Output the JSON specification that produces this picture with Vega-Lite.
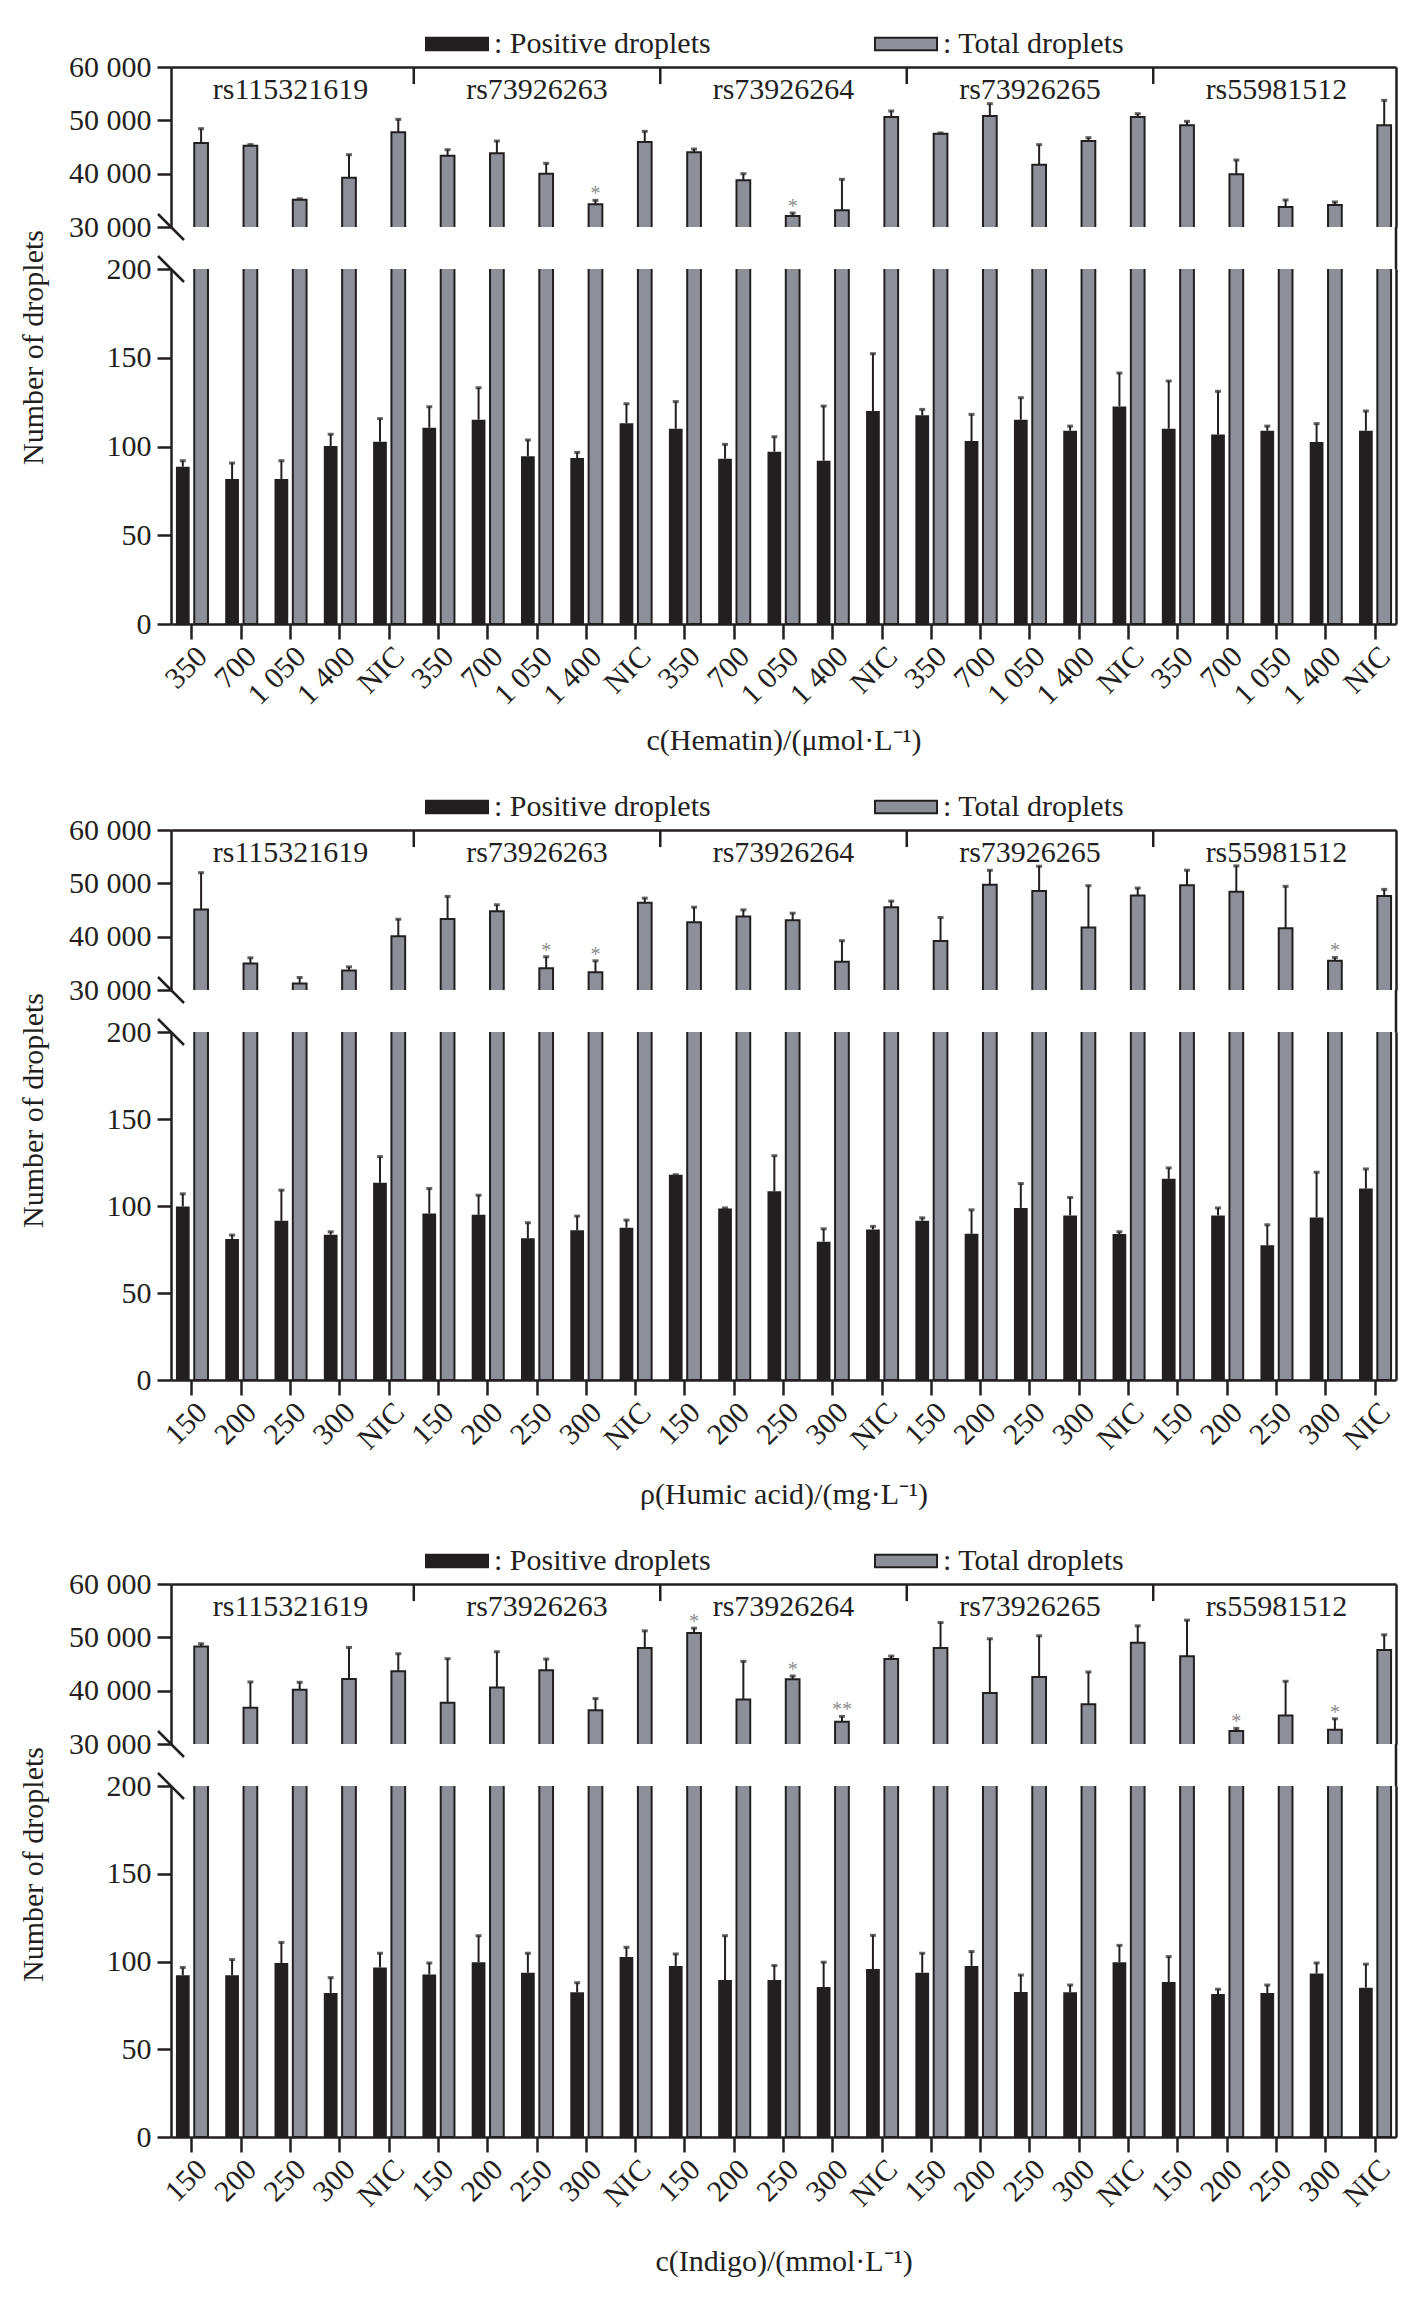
{
"$schema": "https://vega.github.io/schema/vega-lite/v6.json",
"padding": {"left": 17, "top": 12, "right": 10, "bottom": 5},
"background": "white",
"config": {
  "view": {"stroke": null},
  "axis": {"labelFont": "Liberation Serif", "labelFontSize": 30, "labelColor": "#231f20", "titleFont": "Liberation Serif", "titleFontSize": 30, "titleFontWeight": "normal", "titleColor": "#231f20", "domainColor": "#231f20", "domainWidth": 2.5, "tickColor": "#231f20", "tickWidth": 2.5, "grid": false, "labelLimit": 0}
},
"data": {"values": [
{"p":1,"g":"rs115321619","k":"rs115321619|350","t":"Positive droplets","v":88.6,"hi":92},
{"p":1,"g":"rs115321619","k":"rs115321619|350","t":"Total droplets","v":45750,"hi":48440},
{"p":1,"g":"rs115321619","k":"rs115321619|700","t":"Positive droplets","v":81.7,"hi":90.7},
{"p":1,"g":"rs115321619","k":"rs115321619|700","t":"Total droplets","v":45250,"hi":45450},
{"p":1,"g":"rs115321619","k":"rs115321619|1 050","t":"Positive droplets","v":81.7,"hi":92},
{"p":1,"g":"rs115321619","k":"rs115321619|1 050","t":"Total droplets","v":35125,"hi":35300},
{"p":1,"g":"rs115321619","k":"rs115321619|1 400","t":"Positive droplets","v":100.3,"hi":106.9},
{"p":1,"g":"rs115321619","k":"rs115321619|1 400","t":"Total droplets","v":39250,"hi":43560},
{"p":1,"g":"rs115321619","k":"rs115321619|NIC","t":"Positive droplets","v":102.7,"hi":115.7},
{"p":1,"g":"rs115321619","k":"rs115321619|NIC","t":"Total droplets","v":47750,"hi":50190},
{"p":1,"g":"rs73926263","k":"rs73926263|350","t":"Positive droplets","v":110.6,"hi":122.4},
{"p":1,"g":"rs73926263","k":"rs73926263|350","t":"Total droplets","v":43375,"hi":44500},
{"p":1,"g":"rs73926263","k":"rs73926263|700","t":"Positive droplets","v":115.1,"hi":133.1},
{"p":1,"g":"rs73926263","k":"rs73926263|700","t":"Total droplets","v":43810,"hi":46125},
{"p":1,"g":"rs73926263","k":"rs73926263|1 050","t":"Positive droplets","v":94.5,"hi":103.7},
{"p":1,"g":"rs73926263","k":"rs73926263|1 050","t":"Total droplets","v":40000,"hi":41940},
{"p":1,"g":"rs73926263","k":"rs73926263|1 400","t":"Positive droplets","v":93.5,"hi":96.7},
{"p":1,"g":"rs73926263","k":"rs73926263|1 400","t":"Total droplets","v":34250,"hi":35000,"s":"*"},
{"p":1,"g":"rs73926263","k":"rs73926263|NIC","t":"Positive droplets","v":113.1,"hi":124.1},
{"p":1,"g":"rs73926263","k":"rs73926263|NIC","t":"Total droplets","v":45940,"hi":47940},
{"p":1,"g":"rs73926264","k":"rs73926264|350","t":"Positive droplets","v":110,"hi":125.3},
{"p":1,"g":"rs73926264","k":"rs73926264|350","t":"Total droplets","v":44000,"hi":44625},
{"p":1,"g":"rs73926264","k":"rs73926264|700","t":"Positive droplets","v":93.1,"hi":101.2},
{"p":1,"g":"rs73926264","k":"rs73926264|700","t":"Total droplets","v":38750,"hi":40000},
{"p":1,"g":"rs73926264","k":"rs73926264|1 050","t":"Positive droplets","v":97.1,"hi":105.5},
{"p":1,"g":"rs73926264","k":"rs73926264|1 050","t":"Total droplets","v":32060,"hi":32625,"s":"*"},
{"p":1,"g":"rs73926264","k":"rs73926264|1 400","t":"Positive droplets","v":92,"hi":122.8},
{"p":1,"g":"rs73926264","k":"rs73926264|1 400","t":"Total droplets","v":33125,"hi":38940},
{"p":1,"g":"rs73926264","k":"rs73926264|NIC","t":"Positive droplets","v":120,"hi":152.3},
{"p":1,"g":"rs73926264","k":"rs73926264|NIC","t":"Total droplets","v":50625,"hi":51750},
{"p":1,"g":"rs73926265","k":"rs73926265|350","t":"Positive droplets","v":117.6,"hi":120.9},
{"p":1,"g":"rs73926265","k":"rs73926265|350","t":"Total droplets","v":47500,"hi":47625},
{"p":1,"g":"rs73926265","k":"rs73926265|700","t":"Positive droplets","v":103.1,"hi":118.1},
{"p":1,"g":"rs73926265","k":"rs73926265|700","t":"Total droplets","v":50810,"hi":53125},
{"p":1,"g":"rs73926265","k":"rs73926265|1 050","t":"Positive droplets","v":115.1,"hi":127.5},
{"p":1,"g":"rs73926265","k":"rs73926265|1 050","t":"Total droplets","v":41690,"hi":45440},
{"p":1,"g":"rs73926265","k":"rs73926265|1 400","t":"Positive droplets","v":108.9,"hi":111.5},
{"p":1,"g":"rs73926265","k":"rs73926265|1 400","t":"Total droplets","v":46125,"hi":46750},
{"p":1,"g":"rs73926265","k":"rs73926265|NIC","t":"Positive droplets","v":122.6,"hi":141.4},
{"p":1,"g":"rs73926265","k":"rs73926265|NIC","t":"Total droplets","v":50625,"hi":51250},
{"p":1,"g":"rs55981512","k":"rs55981512|350","t":"Positive droplets","v":110,"hi":136.9},
{"p":1,"g":"rs55981512","k":"rs55981512|350","t":"Total droplets","v":49060,"hi":49810},
{"p":1,"g":"rs55981512","k":"rs55981512|700","t":"Positive droplets","v":106.7,"hi":131.1},
{"p":1,"g":"rs55981512","k":"rs55981512|700","t":"Total droplets","v":39875,"hi":42560},
{"p":1,"g":"rs55981512","k":"rs55981512|1 050","t":"Positive droplets","v":108.9,"hi":111.5},
{"p":1,"g":"rs55981512","k":"rs55981512|1 050","t":"Total droplets","v":33750,"hi":35060},
{"p":1,"g":"rs55981512","k":"rs55981512|1 400","t":"Positive droplets","v":102.5,"hi":112.9},
{"p":1,"g":"rs55981512","k":"rs55981512|1 400","t":"Total droplets","v":34125,"hi":34690},
{"p":1,"g":"rs55981512","k":"rs55981512|NIC","t":"Positive droplets","v":108.9,"hi":120},
{"p":1,"g":"rs55981512","k":"rs55981512|NIC","t":"Total droplets","v":49060,"hi":53750},

{"p":2,"g":"rs115321619","k":"rs115321619|150","t":"Positive droplets","v":99.7,"hi":107},
{"p":2,"g":"rs115321619","k":"rs115321619|150","t":"Total droplets","v":45100,"hi":52000},
{"p":2,"g":"rs115321619","k":"rs115321619|200","t":"Positive droplets","v":81,"hi":83.3},
{"p":2,"g":"rs115321619","k":"rs115321619|200","t":"Total droplets","v":34970,"hi":36040},
{"p":2,"g":"rs115321619","k":"rs115321619|250","t":"Positive droplets","v":91.5,"hi":109.1},
{"p":2,"g":"rs115321619","k":"rs115321619|250","t":"Total droplets","v":31200,"hi":32330},
{"p":2,"g":"rs115321619","k":"rs115321619|300","t":"Positive droplets","v":83.5,"hi":85.2},
{"p":2,"g":"rs115321619","k":"rs115321619|300","t":"Total droplets","v":33650,"hi":34340},
{"p":2,"g":"rs115321619","k":"rs115321619|NIC","t":"Positive droplets","v":113.3,"hi":128.4},
{"p":2,"g":"rs115321619","k":"rs115321619|NIC","t":"Total droplets","v":40060,"hi":43270},
{"p":2,"g":"rs73926263","k":"rs73926263|150","t":"Positive droplets","v":95.7,"hi":110},
{"p":2,"g":"rs73926263","k":"rs73926263|150","t":"Total droplets","v":43330,"hi":47550},
{"p":2,"g":"rs73926263","k":"rs73926263|200","t":"Positive droplets","v":94.9,"hi":106.2},
{"p":2,"g":"rs73926263","k":"rs73926263|200","t":"Total droplets","v":44780,"hi":45980},
{"p":2,"g":"rs73926263","k":"rs73926263|250","t":"Positive droplets","v":81.4,"hi":90.4},
{"p":2,"g":"rs73926263","k":"rs73926263|250","t":"Total droplets","v":34090,"hi":36230,"s":"*"},
{"p":2,"g":"rs73926263","k":"rs73926263|300","t":"Positive droplets","v":86,"hi":94.2},
{"p":2,"g":"rs73926263","k":"rs73926263|300","t":"Total droplets","v":33330,"hi":35470,"s":"*"},
{"p":2,"g":"rs73926263","k":"rs73926263|NIC","t":"Positive droplets","v":87.5,"hi":91.9},
{"p":2,"g":"rs73926263","k":"rs73926263|NIC","t":"Total droplets","v":46350,"hi":47230},
{"p":2,"g":"rs73926264","k":"rs73926264|150","t":"Positive droplets","v":118,"hi":118},
{"p":2,"g":"rs73926264","k":"rs73926264|150","t":"Total droplets","v":42700,"hi":45530},
{"p":2,"g":"rs73926264","k":"rs73926264|200","t":"Positive droplets","v":98.6,"hi":98.9},
{"p":2,"g":"rs73926264","k":"rs73926264|200","t":"Total droplets","v":43780,"hi":45030},
{"p":2,"g":"rs73926264","k":"rs73926264|250","t":"Positive droplets","v":108.5,"hi":128.9},
{"p":2,"g":"rs73926264","k":"rs73926264|250","t":"Total droplets","v":43080,"hi":44400},
{"p":2,"g":"rs73926264","k":"rs73926264|300","t":"Positive droplets","v":79.5,"hi":86.9},
{"p":2,"g":"rs73926264","k":"rs73926264|300","t":"Total droplets","v":35280,"hi":39250},
{"p":2,"g":"rs73926264","k":"rs73926264|NIC","t":"Positive droplets","v":86.5,"hi":88.3},
{"p":2,"g":"rs73926264","k":"rs73926264|NIC","t":"Total droplets","v":45530,"hi":46670},
{"p":2,"g":"rs73926265","k":"rs73926265|150","t":"Positive droplets","v":91.5,"hi":93.2},
{"p":2,"g":"rs73926265","k":"rs73926265|150","t":"Total droplets","v":39180,"hi":43590},
{"p":2,"g":"rs73926265","k":"rs73926265|200","t":"Positive droplets","v":84,"hi":97.8},
{"p":2,"g":"rs73926265","k":"rs73926265|200","t":"Total droplets","v":49750,"hi":52450},
{"p":2,"g":"rs73926265","k":"rs73926265|250","t":"Positive droplets","v":98.9,"hi":112.9},
{"p":2,"g":"rs73926265","k":"rs73926265|250","t":"Total droplets","v":48550,"hi":53210},
{"p":2,"g":"rs73926265","k":"rs73926265|300","t":"Positive droplets","v":94.6,"hi":104.9},
{"p":2,"g":"rs73926265","k":"rs73926265|300","t":"Total droplets","v":41700,"hi":49560},
{"p":2,"g":"rs73926265","k":"rs73926265|NIC","t":"Positive droplets","v":83.9,"hi":85.2},
{"p":2,"g":"rs73926265","k":"rs73926265|NIC","t":"Total droplets","v":47740,"hi":49120},
{"p":2,"g":"rs55981512","k":"rs55981512|150","t":"Positive droplets","v":115.6,"hi":121.9},
{"p":2,"g":"rs55981512","k":"rs55981512|150","t":"Total droplets","v":49630,"hi":52460},
{"p":2,"g":"rs55981512","k":"rs55981512|200","t":"Positive droplets","v":94.6,"hi":98.9},
{"p":2,"g":"rs55981512","k":"rs55981512|200","t":"Total droplets","v":48430,"hi":53270},
{"p":2,"g":"rs55981512","k":"rs55981512|250","t":"Positive droplets","v":77.4,"hi":89.2},
{"p":2,"g":"rs55981512","k":"rs55981512|250","t":"Total droplets","v":41570,"hi":49440},
{"p":2,"g":"rs55981512","k":"rs55981512|300","t":"Positive droplets","v":93.4,"hi":119.4},
{"p":2,"g":"rs55981512","k":"rs55981512|300","t":"Total droplets","v":35470,"hi":36100,"s":"*"},
{"p":2,"g":"rs55981512","k":"rs55981512|NIC","t":"Positive droplets","v":110,"hi":121.3},
{"p":2,"g":"rs55981512","k":"rs55981512|NIC","t":"Total droplets","v":47610,"hi":48870},

{"p":3,"g":"rs115321619","k":"rs115321619|150","t":"Positive droplets","v":92.1,"hi":96.6},
{"p":3,"g":"rs115321619","k":"rs115321619|150","t":"Total droplets","v":48300,"hi":48800},
{"p":3,"g":"rs115321619","k":"rs115321619|200","t":"Positive droplets","v":92.1,"hi":101.1},
{"p":3,"g":"rs115321619","k":"rs115321619|200","t":"Total droplets","v":36780,"hi":41640},
{"p":3,"g":"rs115321619","k":"rs115321619|250","t":"Positive droplets","v":99.1,"hi":110.9},
{"p":3,"g":"rs115321619","k":"rs115321619|250","t":"Total droplets","v":40150,"hi":41580},
{"p":3,"g":"rs115321619","k":"rs115321619|300","t":"Positive droplets","v":82.1,"hi":90.8},
{"p":3,"g":"rs115321619","k":"rs115321619|300","t":"Total droplets","v":42200,"hi":48110},
{"p":3,"g":"rs115321619","k":"rs115321619|NIC","t":"Positive droplets","v":96.6,"hi":104.7},
{"p":3,"g":"rs115321619","k":"rs115321619|NIC","t":"Total droplets","v":43630,"hi":46930},
{"p":3,"g":"rs73926263","k":"rs73926263|150","t":"Positive droplets","v":92.6,"hi":99.2},
{"p":3,"g":"rs73926263","k":"rs73926263|150","t":"Total droplets","v":37720,"hi":46000},
{"p":3,"g":"rs73926263","k":"rs73926263|200","t":"Positive droplets","v":99.6,"hi":114.7},
{"p":3,"g":"rs73926263","k":"rs73926263|200","t":"Total droplets","v":40580,"hi":47300},
{"p":3,"g":"rs73926263","k":"rs73926263|250","t":"Positive droplets","v":93.6,"hi":104.7},
{"p":3,"g":"rs73926263","k":"rs73926263|250","t":"Total droplets","v":43820,"hi":45930},
{"p":3,"g":"rs73926263","k":"rs73926263|300","t":"Positive droplets","v":82.5,"hi":87.9},
{"p":3,"g":"rs73926263","k":"rs73926263|300","t":"Total droplets","v":36350,"hi":38530},
{"p":3,"g":"rs73926263","k":"rs73926263|NIC","t":"Positive droplets","v":102.6,"hi":108.1},
{"p":3,"g":"rs73926263","k":"rs73926263|NIC","t":"Total droplets","v":47990,"hi":51220},
{"p":3,"g":"rs73926264","k":"rs73926264|150","t":"Positive droplets","v":97.5,"hi":104.3},
{"p":3,"g":"rs73926264","k":"rs73926264|150","t":"Total droplets","v":50790,"hi":51720,"s":"*"},
{"p":3,"g":"rs73926264","k":"rs73926264|200","t":"Positive droplets","v":89.4,"hi":114.7},
{"p":3,"g":"rs73926264","k":"rs73926264|200","t":"Total droplets","v":38340,"hi":45500},
{"p":3,"g":"rs73926264","k":"rs73926264|250","t":"Positive droplets","v":89.4,"hi":97.7},
{"p":3,"g":"rs73926264","k":"rs73926264|250","t":"Total droplets","v":42140,"hi":42760,"s":"*"},
{"p":3,"g":"rs73926264","k":"rs73926264|300","t":"Positive droplets","v":85.5,"hi":99.6},
{"p":3,"g":"rs73926264","k":"rs73926264|300","t":"Total droplets","v":34170,"hi":35170,"s":"**"},
{"p":3,"g":"rs73926264","k":"rs73926264|NIC","t":"Positive droplets","v":95.7,"hi":114.9},
{"p":3,"g":"rs73926264","k":"rs73926264|NIC","t":"Total droplets","v":45930,"hi":46490},
{"p":3,"g":"rs73926265","k":"rs73926265|150","t":"Positive droplets","v":93.6,"hi":104.7},
{"p":3,"g":"rs73926265","k":"rs73926265|150","t":"Total droplets","v":47990,"hi":52780},
{"p":3,"g":"rs73926265","k":"rs73926265|200","t":"Positive droplets","v":97.5,"hi":105.7},
{"p":3,"g":"rs73926265","k":"rs73926265|200","t":"Total droplets","v":39580,"hi":49730},
{"p":3,"g":"rs73926265","k":"rs73926265|250","t":"Positive droplets","v":82.6,"hi":92.3},
{"p":3,"g":"rs73926265","k":"rs73926265|250","t":"Total droplets","v":42570,"hi":50290},
{"p":3,"g":"rs73926265","k":"rs73926265|300","t":"Positive droplets","v":82.5,"hi":86.6},
{"p":3,"g":"rs73926265","k":"rs73926265|300","t":"Total droplets","v":37470,"hi":43510},
{"p":3,"g":"rs73926265","k":"rs73926265|NIC","t":"Positive droplets","v":99.6,"hi":109.2},
{"p":3,"g":"rs73926265","k":"rs73926265|NIC","t":"Total droplets","v":48980,"hi":52160},
{"p":3,"g":"rs55981512","k":"rs55981512|150","t":"Positive droplets","v":88.3,"hi":102.8},
{"p":3,"g":"rs55981512","k":"rs55981512|150","t":"Total droplets","v":46430,"hi":53220},
{"p":3,"g":"rs55981512","k":"rs55981512|200","t":"Positive droplets","v":81.5,"hi":84.2},
{"p":3,"g":"rs55981512","k":"rs55981512|200","t":"Total droplets","v":32430,"hi":32930,"s":"*"},
{"p":3,"g":"rs55981512","k":"rs55981512|250","t":"Positive droplets","v":82.1,"hi":86.6},
{"p":3,"g":"rs55981512","k":"rs55981512|250","t":"Total droplets","v":35350,"hi":41760},
{"p":3,"g":"rs55981512","k":"rs55981512|300","t":"Positive droplets","v":93.2,"hi":99.2},
{"p":3,"g":"rs55981512","k":"rs55981512|300","t":"Total droplets","v":32680,"hi":34730,"s":"*"},
{"p":3,"g":"rs55981512","k":"rs55981512|NIC","t":"Positive droplets","v":85.1,"hi":98.5},
{"p":3,"g":"rs55981512","k":"rs55981512|NIC","t":"Total droplets","v":47610,"hi":50480}
]},
"spacing": 20,
"resolve": {"scale": {"color": "independent"}, "legend": {"color": "independent"}},
"vconcat": [
 {"spacing": 42, "bounds": "flush",
  "resolve": {"scale": {"color": "independent"}, "legend": {"color": "independent"}},
  "vconcat": [
  {"width": 1225, "height": 160,
   "transform": [{"filter": "datum.p == 1 && datum.t == 'Total droplets'"}],
   "encoding": {"x": {"field": "k", "type": "nominal", "sort": null, "scale": {"paddingInner": 0.35, "paddingOuter": 0.1}, "axis": null}},
   "layer": [
    {"mark": {"type": "bar", "clip": true, "stroke": "#231f20", "strokeWidth": 2},
     "encoding": {
      "xOffset": {"field": "t", "type": "nominal", "scale": {"domain": ["Positive droplets", "Total droplets"], "paddingInner": 0.25, "paddingOuter": 0}},
      "y": {"field": "v", "type": "quantitative", "scale": {"domain": [30000, 60000], "nice": false, "zero": false}, "axis": {"orient": "left", "values": [30000, 40000, 50000, 60000], "labelExpr": "replace(format(datum.value, ','), ',', ' ')", "tickSize": 14, "labelPadding": 6, "title": null}},
      "y2": {"datum": 29000},
      "color": {"field": "t", "type": "nominal", "scale": {"domain": ["Positive droplets", "Total droplets"], "range": ["#231f20", "#8e9099"]},
        "legend": {"orient": "none", "legendX": 254, "legendY": -55, "direction": "horizontal", "title": null, "symbolType": "M-1,-0.2H1V0.2H-1Z", "symbolSize": 3844, "symbolStrokeColor": "#231f20", "symbolStrokeWidth": 2, "labelFont": "Liberation Serif", "labelFontSize": 30, "labelColor": "#231f20", "labelOffset": 5, "columnPadding": 160, "labelExpr": "': ' + datum.label", "padding": 0, "labelLimit": 0}}
     }},
    {"mark": {"type": "rule", "color": "#231f20", "strokeWidth": 2},
     "encoding": {
      "xOffset": {"field": "t", "type": "nominal", "scale": {"domain": ["Positive droplets", "Total droplets"], "paddingInner": 0.25, "paddingOuter": 0}},
      "y": {"field": "v", "type": "quantitative", "scale": {"domain": [30000, 60000], "nice": false, "zero": false}, "axis": null},
      "y2": {"field": "hi"}}},
    {"mark": {"type": "tick", "orient": "horizontal", "color": "#231f20", "size": 6, "thickness": 3},
     "encoding": {
      "xOffset": {"field": "t", "type": "nominal", "scale": {"domain": ["Positive droplets", "Total droplets"], "paddingInner": 0.25, "paddingOuter": 0}},
      "y": {"field": "hi", "type": "quantitative", "scale": {"domain": [30000, 60000], "nice": false, "zero": false}, "axis": null}}},
    {"transform": [{"filter": "isValid(datum.s)"}],
     "mark": {"type": "text", "font": "Liberation Serif", "fontSize": 20, "color": "#8c8c8c", "baseline": "alphabetic"},
     "encoding": {
      "xOffset": {"field": "t", "type": "nominal", "scale": {"domain": ["Positive droplets", "Total droplets"], "paddingInner": 0.25, "paddingOuter": 0}},
      "y": {"field": "hi", "type": "quantitative", "scale": {"domain": [30000, 60000], "nice": false, "zero": false}, "axis": null},
      "text": {"field": "s"}}},
    {"transform": [{"filter": "indexof(datum.k, '|1 050') > 0 || indexof(datum.k, '|250') > 0"}],
     "mark": {"type": "text", "font": "Liberation Serif", "fontSize": 30, "color": "#231f20", "baseline": "middle"},
     "encoding": {
      "x": {"field": "k", "type": "nominal", "sort": null, "scale": {"paddingInner": 0.35, "paddingOuter": 0.1}, "axis": {"orient": "top", "labels": false, "ticks": false, "title": null}},
      "y": {"datum": 55700, "type": "quantitative", "scale": {"domain": [30000, 60000], "nice": false, "zero": false}, "axis": {"orient": "right", "labels": false, "ticks": false, "title": null}},
      "text": {"field": "g"}}},
    {"transform": [{"filter": "(indexof(datum.k, '|350') > 0 || indexof(datum.k, '|150') > 0) && datum.g != 'rs115321619'"}],
     "mark": {"type": "rule", "color": "#231f20", "strokeWidth": 2.5},
     "encoding": {
      "x": {"field": "k", "type": "nominal", "sort": null, "bandPosition": -0.269, "scale": {"paddingInner": 0.35, "paddingOuter": 0.1}, "axis": null},
      "y": {"datum": 60000, "type": "quantitative", "scale": {"domain": [30000, 60000], "nice": false, "zero": false}, "axis": null},
      "y2": {"datum": 56800}}},
    {"data": {"values": [{}]},
     "mark": {"type": "rule", "color": "#231f20", "strokeWidth": 2.5, "clip": false},
     "encoding": {"x": {"value": "width"}, "y": {"datum": 30000, "type": "quantitative", "scale": {"domain": [30000, 60000], "nice": false, "zero": false}, "axis": null}, "y2": {"datum": 22000}}},
    {"data": {"values": [{}]},
     "mark": {"type": "point", "shape": "M-1,-1L1,1", "size": 676, "filled": false, "strokeWidth": 2.5, "color": "#231f20", "opacity": 1},
     "encoding": {"x": {"value": 0}, "y": {"datum": 30000, "type": "quantitative", "scale": {"domain": [30000, 60000], "nice": false, "zero": false}, "axis": null}}}
   ],
   "resolve": {"axis": {"x": "independent", "y": "independent"}}
  },
  {"width": 1225, "height": 355,
   "transform": [{"filter": "datum.p == 1"}],
   "encoding": {"x": {"field": "k", "type": "nominal", "sort": null, "scale": {"paddingInner": 0.35, "paddingOuter": 0.1},
      "axis": {"orient": "bottom", "title": "c(Hematin)/(μmol·L⁻¹)", "labelExpr": "split(datum.value, '|')[1]", "labelAngle": -45, "labelAlign": "right", "labelBaseline": "top", "tickSize": 15, "labelPadding": 2, "titleY": 116, "titleBaseline": "middle"}}},
   "layer": [
    {"transform": [{"filter": "datum.t == 'Positive droplets'"}],
     "mark": {"type": "bar", "color": "#231f20"},
     "encoding": {
      "xOffset": {"field": "t", "type": "nominal", "scale": {"domain": ["Positive droplets", "Total droplets"], "paddingInner": 0.25, "paddingOuter": 0}},
      "y": {"field": "v", "type": "quantitative", "scale": {"domain": [0, 200], "nice": false}, "axis": {"orient": "left", "values": [0, 50, 100, 150, 200], "tickSize": 14, "labelPadding": 6, "title": "Number of droplets", "titleX": -138, "titleY": 78, "titleAngle": 270, "titleAlign": "center", "titleBaseline": "middle"}}}},
    {"transform": [{"filter": "datum.t == 'Total droplets'"}],
     "mark": {"type": "bar", "clip": true, "fill": "#8e9099", "stroke": "#231f20", "strokeWidth": 2},
     "encoding": {
      "xOffset": {"field": "t", "type": "nominal", "scale": {"domain": ["Positive droplets", "Total droplets"], "paddingInner": 0.25, "paddingOuter": 0}},
      "y": {"field": "v", "type": "quantitative", "scale": {"domain": [0, 200], "nice": false}, "axis": {"orient": "right", "labels": false, "ticks": false, "title": null}}}},
    {"transform": [{"filter": "datum.t == 'Positive droplets'"}],
     "mark": {"type": "rule", "color": "#231f20", "strokeWidth": 2},
     "encoding": {
      "xOffset": {"field": "t", "type": "nominal", "scale": {"domain": ["Positive droplets", "Total droplets"], "paddingInner": 0.25, "paddingOuter": 0}},
      "y": {"field": "v", "type": "quantitative", "scale": {"domain": [0, 200], "nice": false}, "axis": null},
      "y2": {"field": "hi"}}},
    {"transform": [{"filter": "datum.t == 'Positive droplets'"}],
     "mark": {"type": "tick", "orient": "horizontal", "color": "#231f20", "size": 6, "thickness": 3},
     "encoding": {
      "xOffset": {"field": "t", "type": "nominal", "scale": {"domain": ["Positive droplets", "Total droplets"], "paddingInner": 0.25, "paddingOuter": 0}},
      "y": {"field": "hi", "type": "quantitative", "scale": {"domain": [0, 200], "nice": false}, "axis": null}}},
    {"data": {"values": [{}]},
     "mark": {"type": "point", "shape": "M-1,-1L1,1", "size": 676, "filled": false, "strokeWidth": 2.5, "color": "#231f20", "opacity": 1},
     "encoding": {"x": {"value": 0}, "y": {"datum": 200, "type": "quantitative", "scale": {"domain": [0, 200], "nice": false}, "axis": null}}}
   ],
   "resolve": {"axis": {"y": "independent"}}
  }
 ]},
 {"spacing": 42, "bounds": "flush",
  "resolve": {"scale": {"color": "independent"}, "legend": {"color": "independent"}},
  "vconcat": [
  {"width": 1225, "height": 160,
   "transform": [{"filter": "datum.p == 2 && datum.t == 'Total droplets'"}],
   "encoding": {"x": {"field": "k", "type": "nominal", "sort": null, "scale": {"paddingInner": 0.35, "paddingOuter": 0.1}, "axis": null}},
   "layer": [
    {"mark": {"type": "bar", "clip": true, "stroke": "#231f20", "strokeWidth": 2},
     "encoding": {
      "xOffset": {"field": "t", "type": "nominal", "scale": {"domain": ["Positive droplets", "Total droplets"], "paddingInner": 0.25, "paddingOuter": 0}},
      "y": {"field": "v", "type": "quantitative", "scale": {"domain": [30000, 60000], "nice": false, "zero": false}, "axis": {"orient": "left", "values": [30000, 40000, 50000, 60000], "labelExpr": "replace(format(datum.value, ','), ',', ' ')", "tickSize": 14, "labelPadding": 6, "title": null}},
      "y2": {"datum": 29000},
      "color": {"field": "t", "type": "nominal", "scale": {"domain": ["Positive droplets", "Total droplets"], "range": ["#231f20", "#8e9099"]},
        "legend": {"orient": "none", "legendX": 254, "legendY": -55, "direction": "horizontal", "title": null, "symbolType": "M-1,-0.2H1V0.2H-1Z", "symbolSize": 3844, "symbolStrokeColor": "#231f20", "symbolStrokeWidth": 2, "labelFont": "Liberation Serif", "labelFontSize": 30, "labelColor": "#231f20", "labelOffset": 5, "columnPadding": 160, "labelExpr": "': ' + datum.label", "padding": 0, "labelLimit": 0}}
     }},
    {"mark": {"type": "rule", "color": "#231f20", "strokeWidth": 2},
     "encoding": {
      "xOffset": {"field": "t", "type": "nominal", "scale": {"domain": ["Positive droplets", "Total droplets"], "paddingInner": 0.25, "paddingOuter": 0}},
      "y": {"field": "v", "type": "quantitative", "scale": {"domain": [30000, 60000], "nice": false, "zero": false}, "axis": null},
      "y2": {"field": "hi"}}},
    {"mark": {"type": "tick", "orient": "horizontal", "color": "#231f20", "size": 6, "thickness": 3},
     "encoding": {
      "xOffset": {"field": "t", "type": "nominal", "scale": {"domain": ["Positive droplets", "Total droplets"], "paddingInner": 0.25, "paddingOuter": 0}},
      "y": {"field": "hi", "type": "quantitative", "scale": {"domain": [30000, 60000], "nice": false, "zero": false}, "axis": null}}},
    {"transform": [{"filter": "isValid(datum.s)"}],
     "mark": {"type": "text", "font": "Liberation Serif", "fontSize": 20, "color": "#8c8c8c", "baseline": "alphabetic"},
     "encoding": {
      "xOffset": {"field": "t", "type": "nominal", "scale": {"domain": ["Positive droplets", "Total droplets"], "paddingInner": 0.25, "paddingOuter": 0}},
      "y": {"field": "hi", "type": "quantitative", "scale": {"domain": [30000, 60000], "nice": false, "zero": false}, "axis": null},
      "text": {"field": "s"}}},
    {"transform": [{"filter": "indexof(datum.k, '|1 050') > 0 || indexof(datum.k, '|250') > 0"}],
     "mark": {"type": "text", "font": "Liberation Serif", "fontSize": 30, "color": "#231f20", "baseline": "middle"},
     "encoding": {
      "x": {"field": "k", "type": "nominal", "sort": null, "scale": {"paddingInner": 0.35, "paddingOuter": 0.1}, "axis": {"orient": "top", "labels": false, "ticks": false, "title": null}},
      "y": {"datum": 55700, "type": "quantitative", "scale": {"domain": [30000, 60000], "nice": false, "zero": false}, "axis": {"orient": "right", "labels": false, "ticks": false, "title": null}},
      "text": {"field": "g"}}},
    {"transform": [{"filter": "(indexof(datum.k, '|350') > 0 || indexof(datum.k, '|150') > 0) && datum.g != 'rs115321619'"}],
     "mark": {"type": "rule", "color": "#231f20", "strokeWidth": 2.5},
     "encoding": {
      "x": {"field": "k", "type": "nominal", "sort": null, "bandPosition": -0.269, "scale": {"paddingInner": 0.35, "paddingOuter": 0.1}, "axis": null},
      "y": {"datum": 60000, "type": "quantitative", "scale": {"domain": [30000, 60000], "nice": false, "zero": false}, "axis": null},
      "y2": {"datum": 56800}}},
    {"data": {"values": [{}]},
     "mark": {"type": "rule", "color": "#231f20", "strokeWidth": 2.5, "clip": false},
     "encoding": {"x": {"value": "width"}, "y": {"datum": 30000, "type": "quantitative", "scale": {"domain": [30000, 60000], "nice": false, "zero": false}, "axis": null}, "y2": {"datum": 22000}}},
    {"data": {"values": [{}]},
     "mark": {"type": "point", "shape": "M-1,-1L1,1", "size": 676, "filled": false, "strokeWidth": 2.5, "color": "#231f20", "opacity": 1},
     "encoding": {"x": {"value": 0}, "y": {"datum": 30000, "type": "quantitative", "scale": {"domain": [30000, 60000], "nice": false, "zero": false}, "axis": null}}}
   ],
   "resolve": {"axis": {"x": "independent", "y": "independent"}}
  },
  {"width": 1225, "height": 348,
   "transform": [{"filter": "datum.p == 2"}],
   "encoding": {"x": {"field": "k", "type": "nominal", "sort": null, "scale": {"paddingInner": 0.35, "paddingOuter": 0.1},
      "axis": {"orient": "bottom", "title": "ρ(Humic acid)/(mg·L⁻¹)", "labelExpr": "split(datum.value, '|')[1]", "labelAngle": -45, "labelAlign": "right", "labelBaseline": "top", "tickSize": 15, "labelPadding": 2, "titleY": 114, "titleBaseline": "middle"}}},
   "layer": [
    {"transform": [{"filter": "datum.t == 'Positive droplets'"}],
     "mark": {"type": "bar", "color": "#231f20"},
     "encoding": {
      "xOffset": {"field": "t", "type": "nominal", "scale": {"domain": ["Positive droplets", "Total droplets"], "paddingInner": 0.25, "paddingOuter": 0}},
      "y": {"field": "v", "type": "quantitative", "scale": {"domain": [0, 200], "nice": false}, "axis": {"orient": "left", "values": [0, 50, 100, 150, 200], "tickSize": 14, "labelPadding": 6, "title": "Number of droplets", "titleX": -138, "titleY": 78, "titleAngle": 270, "titleAlign": "center", "titleBaseline": "middle"}}}},
    {"transform": [{"filter": "datum.t == 'Total droplets'"}],
     "mark": {"type": "bar", "clip": true, "fill": "#8e9099", "stroke": "#231f20", "strokeWidth": 2},
     "encoding": {
      "xOffset": {"field": "t", "type": "nominal", "scale": {"domain": ["Positive droplets", "Total droplets"], "paddingInner": 0.25, "paddingOuter": 0}},
      "y": {"field": "v", "type": "quantitative", "scale": {"domain": [0, 200], "nice": false}, "axis": {"orient": "right", "labels": false, "ticks": false, "title": null}}}},
    {"transform": [{"filter": "datum.t == 'Positive droplets'"}],
     "mark": {"type": "rule", "color": "#231f20", "strokeWidth": 2},
     "encoding": {
      "xOffset": {"field": "t", "type": "nominal", "scale": {"domain": ["Positive droplets", "Total droplets"], "paddingInner": 0.25, "paddingOuter": 0}},
      "y": {"field": "v", "type": "quantitative", "scale": {"domain": [0, 200], "nice": false}, "axis": null},
      "y2": {"field": "hi"}}},
    {"transform": [{"filter": "datum.t == 'Positive droplets'"}],
     "mark": {"type": "tick", "orient": "horizontal", "color": "#231f20", "size": 6, "thickness": 3},
     "encoding": {
      "xOffset": {"field": "t", "type": "nominal", "scale": {"domain": ["Positive droplets", "Total droplets"], "paddingInner": 0.25, "paddingOuter": 0}},
      "y": {"field": "hi", "type": "quantitative", "scale": {"domain": [0, 200], "nice": false}, "axis": null}}},
    {"data": {"values": [{}]},
     "mark": {"type": "point", "shape": "M-1,-1L1,1", "size": 676, "filled": false, "strokeWidth": 2.5, "color": "#231f20", "opacity": 1},
     "encoding": {"x": {"value": 0}, "y": {"datum": 200, "type": "quantitative", "scale": {"domain": [0, 200], "nice": false}, "axis": null}}}
   ],
   "resolve": {"axis": {"y": "independent"}}
  }
 ]},
 {"spacing": 42, "bounds": "flush",
  "resolve": {"scale": {"color": "independent"}, "legend": {"color": "independent"}},
  "vconcat": [
  {"width": 1225, "height": 160,
   "transform": [{"filter": "datum.p == 3 && datum.t == 'Total droplets'"}],
   "encoding": {"x": {"field": "k", "type": "nominal", "sort": null, "scale": {"paddingInner": 0.35, "paddingOuter": 0.1}, "axis": null}},
   "layer": [
    {"mark": {"type": "bar", "clip": true, "stroke": "#231f20", "strokeWidth": 2},
     "encoding": {
      "xOffset": {"field": "t", "type": "nominal", "scale": {"domain": ["Positive droplets", "Total droplets"], "paddingInner": 0.25, "paddingOuter": 0}},
      "y": {"field": "v", "type": "quantitative", "scale": {"domain": [30000, 60000], "nice": false, "zero": false}, "axis": {"orient": "left", "values": [30000, 40000, 50000, 60000], "labelExpr": "replace(format(datum.value, ','), ',', ' ')", "tickSize": 14, "labelPadding": 6, "title": null}},
      "y2": {"datum": 29000},
      "color": {"field": "t", "type": "nominal", "scale": {"domain": ["Positive droplets", "Total droplets"], "range": ["#231f20", "#8e9099"]},
        "legend": {"orient": "none", "legendX": 254, "legendY": -55, "direction": "horizontal", "title": null, "symbolType": "M-1,-0.2H1V0.2H-1Z", "symbolSize": 3844, "symbolStrokeColor": "#231f20", "symbolStrokeWidth": 2, "labelFont": "Liberation Serif", "labelFontSize": 30, "labelColor": "#231f20", "labelOffset": 5, "columnPadding": 160, "labelExpr": "': ' + datum.label", "padding": 0, "labelLimit": 0}}
     }},
    {"mark": {"type": "rule", "color": "#231f20", "strokeWidth": 2},
     "encoding": {
      "xOffset": {"field": "t", "type": "nominal", "scale": {"domain": ["Positive droplets", "Total droplets"], "paddingInner": 0.25, "paddingOuter": 0}},
      "y": {"field": "v", "type": "quantitative", "scale": {"domain": [30000, 60000], "nice": false, "zero": false}, "axis": null},
      "y2": {"field": "hi"}}},
    {"mark": {"type": "tick", "orient": "horizontal", "color": "#231f20", "size": 6, "thickness": 3},
     "encoding": {
      "xOffset": {"field": "t", "type": "nominal", "scale": {"domain": ["Positive droplets", "Total droplets"], "paddingInner": 0.25, "paddingOuter": 0}},
      "y": {"field": "hi", "type": "quantitative", "scale": {"domain": [30000, 60000], "nice": false, "zero": false}, "axis": null}}},
    {"transform": [{"filter": "isValid(datum.s)"}],
     "mark": {"type": "text", "font": "Liberation Serif", "fontSize": 20, "color": "#8c8c8c", "baseline": "alphabetic"},
     "encoding": {
      "xOffset": {"field": "t", "type": "nominal", "scale": {"domain": ["Positive droplets", "Total droplets"], "paddingInner": 0.25, "paddingOuter": 0}},
      "y": {"field": "hi", "type": "quantitative", "scale": {"domain": [30000, 60000], "nice": false, "zero": false}, "axis": null},
      "text": {"field": "s"}}},
    {"transform": [{"filter": "indexof(datum.k, '|1 050') > 0 || indexof(datum.k, '|250') > 0"}],
     "mark": {"type": "text", "font": "Liberation Serif", "fontSize": 30, "color": "#231f20", "baseline": "middle"},
     "encoding": {
      "x": {"field": "k", "type": "nominal", "sort": null, "scale": {"paddingInner": 0.35, "paddingOuter": 0.1}, "axis": {"orient": "top", "labels": false, "ticks": false, "title": null}},
      "y": {"datum": 55700, "type": "quantitative", "scale": {"domain": [30000, 60000], "nice": false, "zero": false}, "axis": {"orient": "right", "labels": false, "ticks": false, "title": null}},
      "text": {"field": "g"}}},
    {"transform": [{"filter": "(indexof(datum.k, '|350') > 0 || indexof(datum.k, '|150') > 0) && datum.g != 'rs115321619'"}],
     "mark": {"type": "rule", "color": "#231f20", "strokeWidth": 2.5},
     "encoding": {
      "x": {"field": "k", "type": "nominal", "sort": null, "bandPosition": -0.269, "scale": {"paddingInner": 0.35, "paddingOuter": 0.1}, "axis": null},
      "y": {"datum": 60000, "type": "quantitative", "scale": {"domain": [30000, 60000], "nice": false, "zero": false}, "axis": null},
      "y2": {"datum": 56800}}},
    {"data": {"values": [{}]},
     "mark": {"type": "rule", "color": "#231f20", "strokeWidth": 2.5, "clip": false},
     "encoding": {"x": {"value": "width"}, "y": {"datum": 30000, "type": "quantitative", "scale": {"domain": [30000, 60000], "nice": false, "zero": false}, "axis": null}, "y2": {"datum": 22000}}},
    {"data": {"values": [{}]},
     "mark": {"type": "point", "shape": "M-1,-1L1,1", "size": 676, "filled": false, "strokeWidth": 2.5, "color": "#231f20", "opacity": 1},
     "encoding": {"x": {"value": 0}, "y": {"datum": 30000, "type": "quantitative", "scale": {"domain": [30000, 60000], "nice": false, "zero": false}, "axis": null}}}
   ],
   "resolve": {"axis": {"x": "independent", "y": "independent"}}
  },
  {"width": 1225, "height": 351,
   "transform": [{"filter": "datum.p == 3"}],
   "encoding": {"x": {"field": "k", "type": "nominal", "sort": null, "scale": {"paddingInner": 0.35, "paddingOuter": 0.1},
      "axis": {"orient": "bottom", "title": "c(Indigo)/(mmol·L⁻¹)", "labelExpr": "split(datum.value, '|')[1]", "labelAngle": -45, "labelAlign": "right", "labelBaseline": "top", "tickSize": 15, "labelPadding": 2, "titleY": 124, "titleBaseline": "middle"}}},
   "layer": [
    {"transform": [{"filter": "datum.t == 'Positive droplets'"}],
     "mark": {"type": "bar", "color": "#231f20"},
     "encoding": {
      "xOffset": {"field": "t", "type": "nominal", "scale": {"domain": ["Positive droplets", "Total droplets"], "paddingInner": 0.25, "paddingOuter": 0}},
      "y": {"field": "v", "type": "quantitative", "scale": {"domain": [0, 200], "nice": false}, "axis": {"orient": "left", "values": [0, 50, 100, 150, 200], "tickSize": 14, "labelPadding": 6, "title": "Number of droplets", "titleX": -138, "titleY": 78, "titleAngle": 270, "titleAlign": "center", "titleBaseline": "middle"}}}},
    {"transform": [{"filter": "datum.t == 'Total droplets'"}],
     "mark": {"type": "bar", "clip": true, "fill": "#8e9099", "stroke": "#231f20", "strokeWidth": 2},
     "encoding": {
      "xOffset": {"field": "t", "type": "nominal", "scale": {"domain": ["Positive droplets", "Total droplets"], "paddingInner": 0.25, "paddingOuter": 0}},
      "y": {"field": "v", "type": "quantitative", "scale": {"domain": [0, 200], "nice": false}, "axis": {"orient": "right", "labels": false, "ticks": false, "title": null}}}},
    {"transform": [{"filter": "datum.t == 'Positive droplets'"}],
     "mark": {"type": "rule", "color": "#231f20", "strokeWidth": 2},
     "encoding": {
      "xOffset": {"field": "t", "type": "nominal", "scale": {"domain": ["Positive droplets", "Total droplets"], "paddingInner": 0.25, "paddingOuter": 0}},
      "y": {"field": "v", "type": "quantitative", "scale": {"domain": [0, 200], "nice": false}, "axis": null},
      "y2": {"field": "hi"}}},
    {"transform": [{"filter": "datum.t == 'Positive droplets'"}],
     "mark": {"type": "tick", "orient": "horizontal", "color": "#231f20", "size": 6, "thickness": 3},
     "encoding": {
      "xOffset": {"field": "t", "type": "nominal", "scale": {"domain": ["Positive droplets", "Total droplets"], "paddingInner": 0.25, "paddingOuter": 0}},
      "y": {"field": "hi", "type": "quantitative", "scale": {"domain": [0, 200], "nice": false}, "axis": null}}},
    {"data": {"values": [{}]},
     "mark": {"type": "point", "shape": "M-1,-1L1,1", "size": 676, "filled": false, "strokeWidth": 2.5, "color": "#231f20", "opacity": 1},
     "encoding": {"x": {"value": 0}, "y": {"datum": 200, "type": "quantitative", "scale": {"domain": [0, 200], "nice": false}, "axis": null}}}
   ],
   "resolve": {"axis": {"y": "independent"}}
  }
 ]}
]
}
